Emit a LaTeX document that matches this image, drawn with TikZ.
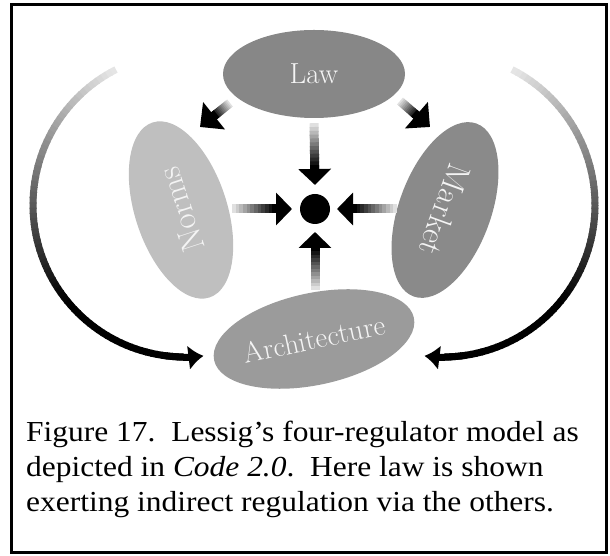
\documentclass[tikz,border=0pt]{standalone}
\usepackage{fontspec}
\newfontfamily\capfont{Liberation Serif}
\usepackage{xcolor}
\usepackage{tikz}
\usetikzlibrary{arrows.meta, positioning, shapes.geometric, calc}

\definecolor{lawgray}{HTML}{878787}
\definecolor{normsgray}{HTML}{BFBFBF}
\definecolor{marketgray}{HTML}{8A8A8A}
\definecolor{archgray}{HTML}{9B9B9B}
\definecolor{labelwhite}{HTML}{F4F4F4}

\begin{document}
\begin{tikzpicture}[x=1pt, y=1pt,
  regulator/.style={ellipse, inner sep=0pt, minimum width=184pt, minimum height=92pt, text=labelwhite},
  hub/.style={circle, fill=black, inner sep=0pt, minimum size=30pt},
  caption/.style={anchor=north west, align=left, inner sep=0pt, xscale=1.085, font=\capfont\fontsize{29}{35}\selectfont},
  arc/.style={line width=7pt},
  shaft/.style={line width=9pt}
]
\useasboundingbox (0,0) rectangle (610,556);
\draw[line width=3pt] (11,551) rectangle (606,3);

% Nodes
\node[regulator, fill=lawgray, minimum width=182pt, minimum height=88pt, font=\fontsize{29}{29}\selectfont] (law) at (314,482) {Law};
\node[hub] (dot) at (315,347) {};
\node[regulator, fill=normsgray, rotate=108, font=\fontsize{33}{33}\selectfont] (norms) at (181,346) {Norms};
\node[regulator, fill=marketgray, rotate=-110, font=\fontsize{33}{33}\selectfont] (market) at (445,346) {Market};
\node[regulator, fill=archgray, rotate=12, font=\fontsize{29}{29}\selectfont] (arch) at (314,217) {Architecture};

\node[caption] (caption) at (26,135) {Figure 17.\ \ Lessig’s four-regulator model as\\depicted in \textit{Code 2.0}.\ \ Here law is shown\\exerting indirect regulation via the others.};

% Arrow ends
\coordinate (law1) at ($(law.south)+(0,-5)$);
\coordinate (dotN) at ($(dot)+(0,24)$);
\coordinate (norms1) at ($(dot)+(-83,0)$);
\coordinate (dotW) at ($(dot)+(-23,0)$);
\coordinate (market1) at ($(dot)+(82,0)$);
\coordinate (dotE) at ($(dot)+(22,0)$);
\coordinate (arch1) at ($(dot)+(0,-81)$);
\coordinate (dotS) at ($(dot)+(0,-23)$);
\coordinate (lawSW) at (230,453);
\coordinate (normsNE) at (200,429);
\coordinate (lawSE) at (400,455);
\coordinate (marketNW) at (430,429);

% Arrows
\foreach \a/\b/\hl/\hw in {law1/dotN/16pt/32pt, norms1/dotW/16pt/32pt, market1/dotE/16pt/32pt, arch1/dotS/16pt/32pt, lawSW/normsNE/18pt/34pt, lawSE/marketNW/18pt/34pt} {
  \coordinate (hb) at ($(\b)!\hl!(\a)$);
  \foreach \i in {0,...,11} {
    \pgfmathsetmacro\f{\i/12}
    \pgfmathsetmacro\g{(\i+1.3)/12}
    \pgfmathtruncatemacro\p{12+\i*8}
    \draw[shaft, black!\p] ($(\a)!\f!(hb)$) -- ($(\a)!\g!(hb)$);
  }
  \draw[shaft, -{Triangle[length=\hl, width=\hw]}] ($(\b)!\hl+3pt!(\a)$) -- (\b);
}

% Outer arcs
\coordinate (lc) at (185,351);
\coordinate (rc) at (443,351);
\foreach \a in {117,119,...,267} {
  \pgfmathtruncatemacro\p{min(100,10+(\a-117)*0.9)}
  \draw[arc, black!\p] ($(lc)+(\a:152)$) arc[start angle=\a, end angle=\a+2.5, radius=152];
}
\draw[arc, -{Latex[length=15pt, width=25pt]}] ($(lc)+(262:152)$) arc[start angle=262, end angle=277, radius=152];
\foreach \a in {63,61,...,-87} {
  \pgfmathtruncatemacro\p{min(100,10+(63-\a)*0.9)}
  \draw[arc, black!\p] ($(rc)+(\a:152)$) arc[start angle=\a, end angle=\a-2.5, radius=152];
}
\draw[arc, -{Latex[length=15pt, width=25pt]}] ($(rc)+(-82:152)$) arc[start angle=-82, end angle=-97, radius=152];

\end{tikzpicture}
\end{document}
